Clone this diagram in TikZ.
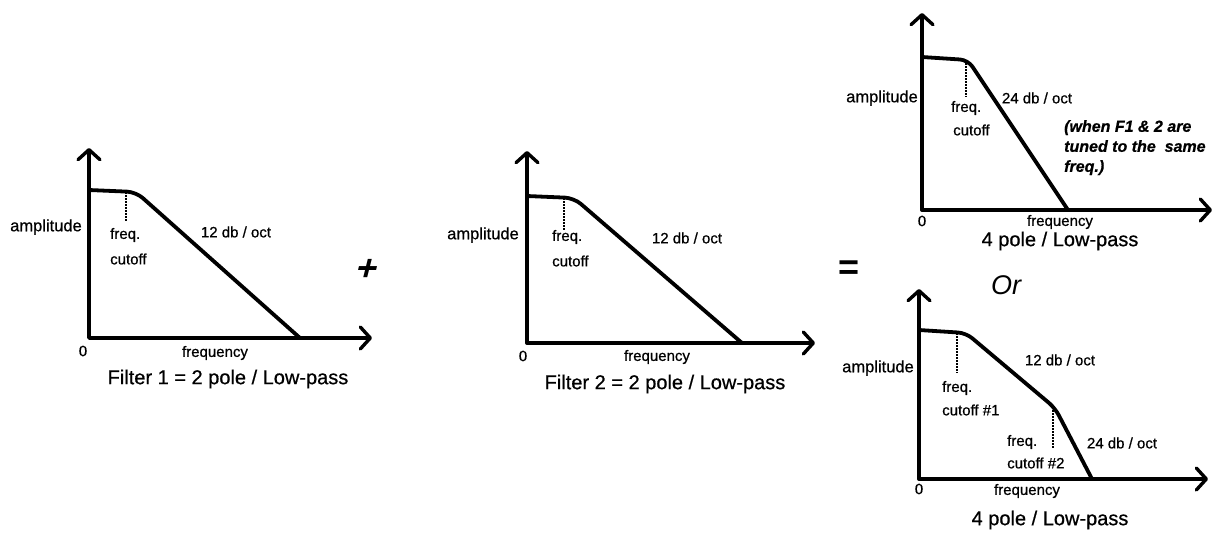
\documentclass[tikz,border=0pt]{standalone}
\usepackage{fontspec}
\setmainfont{Liberation Sans}
\newfontfamily\scanfont[FakeBold=0.7]{Liberation Sans}
\usetikzlibrary{arrows.meta}
\begin{document}
\begin{tikzpicture}[x=1pt,y=-1pt,
  axis/.style={line width=3.4pt,line join=round,
    {Straight Barb[length=10pt,width=22pt,round]}-{Straight Barb[length=10pt,width=22pt,round]}},
  curve/.style={line width=3.8pt,line cap=round,line join=round},
  cutline/.style={line width=2pt,densely dotted},
  lab/.style={font=\scanfont\fontsize{15}{17}\selectfont,inner sep=0pt},
  amp/.style={font=\scanfont\fontsize{16.5}{18}\selectfont,inner sep=0pt},
  capt/.style={font=\scanfont\fontsize{20}{22}\selectfont,inner sep=0pt},
  note/.style={font=\scanfont\fontsize{16}{20}\selectfont\itshape\bfseries,inner sep=0pt,align=left},
  sym/.style={inner sep=0pt}]
\useasboundingbox (0,0) rectangle (1220,536);

% ---------- Panel 1 ----------
\coordinate (a1t) at (89,148);
\coordinate (a1o) at (89,338);
\coordinate (a1r) at (372,338);
\coordinate (p1s) at (89,190);
\coordinate (p1k) at (136,192);
\coordinate (p1e) at (300,338);
\coordinate (c1t) at (126,192);
\coordinate (c1b) at (126,222);
\draw[axis] (a1t) -- (a1o) -- (a1r);
\draw[curve,rounded corners=9pt] (p1s) -- (p1k) -- (p1e);
\draw[cutline] (c1t) -- (c1b);
\node[amp] (amp1) at (46,227) {amplitude};
\node[lab,anchor=west] (fq1) at (110,235) {freq.};
\node[lab,anchor=west] (co1) at (110,259) {cutoff};
\node[lab] (sl1) at (236,232) {12 db / oct};
\node[lab] (z1) at (83,351) {0};
\node[lab] (fr1) at (215,353) {frequency};
\node[capt] (cap1) at (228,379) {Filter 1 = 2 pole / Low-pass};

\node[sym,font=\fontsize{36}{38}\selectfont\bfseries,transform shape,xslant=0.25] (plus) at (368,270) {+};

% ---------- Panel 2 ----------
\coordinate (a2t) at (527,151);
\coordinate (a2o) at (527,343);
\coordinate (a2r) at (815,343);
\coordinate (p2s) at (527,196);
\coordinate (p2k) at (574,198);
\coordinate (p2e) at (742,343);
\coordinate (c2t) at (564,198);
\coordinate (c2b) at (564,230);
\draw[axis] (a2t) -- (a2o) -- (a2r);
\draw[curve,rounded corners=9pt] (p2s) -- (p2k) -- (p2e);
\draw[cutline] (c2t) -- (c2b);
\node[amp] (amp2) at (483,235) {amplitude};
\node[lab,anchor=west] (fq2) at (552,237) {freq.};
\node[lab,anchor=west] (co2) at (552,261) {cutoff};
\node[lab] (sl2) at (687,238) {12 db / oct};
\node[lab] (z2) at (523,356) {0};
\node[lab] (fr2) at (657,357) {frequency};
\node[capt] (cap2) at (665,384) {Filter 2 = 2 pole / Low-pass};

\node[sym,font=\fontsize{36}{38}\selectfont\bfseries] (eq) at (849,270) {=};

% ---------- Panel 3 ----------
\coordinate (a3t) at (922,13);
\coordinate (a3o) at (922,210);
\coordinate (a3r) at (1212,210);
\coordinate (p3s) at (922,57);
\coordinate (p3k) at (968,60);
\coordinate (p3e) at (1068,210);
\coordinate (c3t) at (966,60);
\coordinate (c3b) at (966,97);
\draw[axis] (a3t) -- (a3o) -- (a3r);
\draw[curve,rounded corners=8pt] (p3s) -- (p3k) -- (p3e);
\draw[cutline] (c3t) -- (c3b);
\node[amp] (amp3) at (882,98) {amplitude};
\node[lab,anchor=west] (fq3) at (951,108) {freq.};
\node[lab,anchor=west] (co3) at (953,130) {cutoff};
\node[lab] (sl3) at (1037,98) {24 db / oct};
\node[note,anchor=north west] (nt3) at (1064,120) {(when F1 \& 2 are\\tuned to the\ \ same\\freq.)};
\node[lab] (z3) at (922,221) {0};
\node[lab] (fr3) at (1060,222) {frequency};
\node[capt] (cap3) at (1060,241) {4 pole / Low-pass};

\node[sym,font=\fontsize{27}{29}\selectfont\itshape] (or) at (1006,285) {Or};

% ---------- Panel 4 ----------
\coordinate (a4t) at (919,289);
\coordinate (a4o) at (919,479);
\coordinate (a4r) at (1208,479);
\coordinate (p4s) at (919,330);
\coordinate (p4k) at (966,333);
\coordinate (p4b) at (1055,408);
\coordinate (p4e) at (1092,479);
\coordinate (c4at) at (957,333);
\coordinate (c4ab) at (957,373);
\coordinate (c4bt) at (1053,410);
\coordinate (c4bb) at (1053,448);
\draw[axis] (a4t) -- (a4o) -- (a4r);
\draw[curve,rounded corners=8pt] (p4s) -- (p4k) -- (p4b) -- (p4e);
\draw[cutline] (c4at) -- (c4ab);
\draw[cutline] (c4bt) -- (c4bb);
\node[amp] (amp4) at (878,368) {amplitude};
\node[lab,anchor=west] (fq4a) at (942,388) {freq.};
\node[lab,anchor=west] (co4a) at (942,410) {cutoff \#1};
\node[lab] (sl4a) at (1060,360) {12 db / oct};
\node[lab,anchor=west] (fq4b) at (1007,442) {freq.};
\node[lab,anchor=west] (co4b) at (1007,463) {cutoff \#2};
\node[lab] (sl4b) at (1122,443) {24 db / oct};
\node[lab] (z4) at (919,489) {0};
\node[lab] (fr4) at (1027,491) {frequency};
\node[capt] (cap4) at (1050,520) {4 pole / Low-pass};
\end{tikzpicture}
\end{document}
